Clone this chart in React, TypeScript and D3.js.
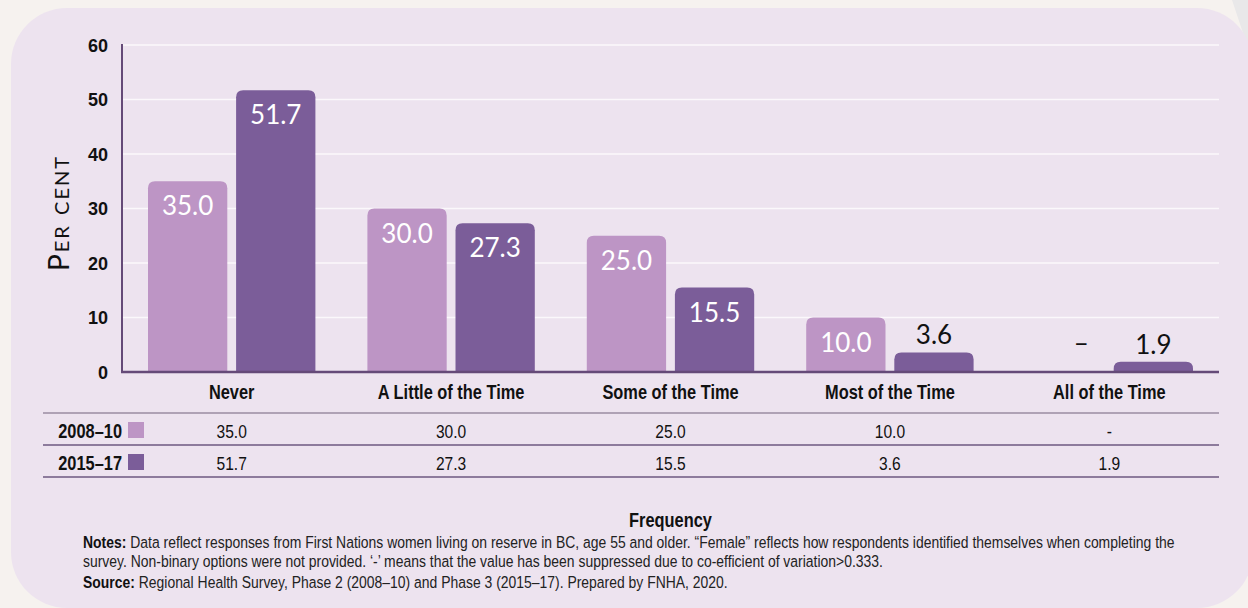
import * as d3 from "d3";
import type { ReactNode } from "react";

// ── Data ────────────────────────────────────────────────────────────────
const categories = [
  "Never",
  "A Little of the Time",
  "Some of the Time",
  "Most of the Time",
  "All of the Time",
];
const seriesNames = ["2008–10", "2015–17"];
const values2008: (number | null)[] = [35.0, 30.0, 25.0, 10.0, null];
const values2015: (number | null)[] = [51.7, 27.3, 15.5, 3.6, 1.9];
const yTicks = [0, 10, 20, 30, 40, 50, 60];

const notesLine1 =
  "Data reflect responses from First Nations women living on reserve in BC, age 55 and older. “Female” reflects how respondents identified themselves when completing the";
const notesLine2 =
  "survey. Non-binary options were not provided. ‘-’ means that the value has been suppressed due to co-efficient of variation>0.333.";
const sourceLine =
  "Regional Health Survey, Phase 2 (2008–10) and Phase 3 (2015–17). Prepared by FNHA, 2020.";

// ── Layout / styles ─────────────────────────────────────────────────────
const W = 1248;
const H = 608;
const PLOT = { left: 122, right: 1219, top: 45, bottom: 372 };
const COLORS = ["#bd95c5", "#7b5d99"];
const AXIS_COLOR = "#654a78";
const SANS = "'Liberation Sans', Arial, sans-serif";
const ROUND = "Lato, 'Noto Sans', sans-serif";
const SQUEEZE = 0.82; // fake a condensed face, none is installed

function topRounded(x: number, y: number, w: number, h: number, r: number) {
  const rr = Math.min(r, h, w / 2);
  return `M${x},${y + h}V${y + rr}Q${x},${y} ${x + rr},${y}H${x + w - rr}Q${x + w},${y} ${x + w},${y + rr}V${y + h}Z`;
}

// condensed text: horizontally squeezed Liberation Sans
function CText(props: {
  x: number;
  y: number;
  size: number;
  anchor?: "start" | "middle" | "end";
  bold?: boolean;
  fill?: string;
  dy?: string;
  squeeze?: number;
  children: ReactNode;
}) {
  const { x, y, size, anchor = "start", bold, fill = "#111", dy, squeeze = SQUEEZE, children } = props;
  return (
    <text
      transform={`translate(${x},${y}) scale(${squeeze},1)`}
      dy={dy}
      textAnchor={anchor}
      fontFamily={SANS}
      fontWeight={bold ? "bold" : "normal"}
      fontSize={size}
      fill={fill}
    >
      {children}
    </text>
  );
}

export default function App() {
  const x0 = d3.scaleBand<string>().domain(categories).range([PLOT.left, PLOT.right]);
  const x1 = d3
    .scaleBand<string>()
    .domain(seriesNames)
    .range([26, x0.bandwidth() - 26])
    .paddingInner(0.1);
  const y = d3.scaleLinear().domain([0, 60]).range([PLOT.bottom, PLOT.top]);

  const allSeries = [values2008, values2015];
  const fmt = (v: number | null) => (v === null ? "-" : v.toFixed(1));
  const catCenter = (c: string) => (x0(c) ?? 0) + x0.bandwidth() / 2;

  const tableTop = 413;
  const rowH = 32;

  return (
    <svg width={W} height={H} style={{ position: "absolute", left: 0, top: 0 }}>
      <rect width={W} height={H} fill="#f6f2ef" />
      <polygon points="1232,0 1248,0 1248,48" fill="#e9e8e9" />
      <rect x={11} y={8} width={1242} height={600} rx={56} fill="#ede3ef" />

      {/* gridlines */}
      {yTicks
        .filter((t) => t > 0)
        .map((t) => (
          <line key={t} x1={PLOT.left} x2={PLOT.right} y1={y(t)} y2={y(t)} stroke="#fbf8fb" strokeWidth={1.6} />
        ))}

      {/* y tick labels */}
      {yTicks.map((t) => (
        <CText key={t} x={108} y={y(t)} dy="0.36em" anchor="end" bold size={19} squeeze={0.95}>
          {t}
        </CText>
      ))}

      {/* y axis title */}
      <text
        transform={`translate(69,213) rotate(-90)`}
        textAnchor="middle"
        fontFamily={ROUND}
        fontSize={28}
        letterSpacing={2}
        fill="#111"
        style={{ fontVariant: "small-caps" }}
      >
        Per cent
      </text>

      {/* bars */}
      {categories.map((c, ci) =>
        seriesNames.map((s, si) => {
          const v = allSeries[si][ci];
          const bx = (x0(c) ?? 0) + (x1(s) ?? 0);
          const bw = x1.bandwidth();
          const cx = bx + bw / 2;
          if (v === null) {
            return (
              <text
                key={c + s}
                x={cx + 16}
                y={y(0) - 20}
                textAnchor="middle"
                fontFamily={ROUND}
                fontSize={26}
                fill="#111"
              >
                –
              </text>
            );
          }
          const top = y(v);
          const inside = v >= 10;
          return (
            <g key={c + s}>
              <path d={topRounded(bx, top, bw, y(0) - top, 7)} fill={COLORS[si]} />
              <text
                x={cx}
                y={inside ? top + 34 : top - 8}
                textAnchor="middle"
                fontFamily={ROUND}
                fontSize={26}
                fill={inside ? "#ffffff" : "#111"}
              >
                {v.toFixed(1)}
              </text>
            </g>
          );
        })
      )}

      {/* axes */}
      <line x1={PLOT.left} x2={PLOT.left} y1={PLOT.top - 1} y2={PLOT.bottom} stroke={AXIS_COLOR} strokeWidth={2} />
      <line x1={PLOT.left - 1} x2={PLOT.right} y1={PLOT.bottom} y2={PLOT.bottom} stroke={AXIS_COLOR} strokeWidth={2.5} />

      {/* category labels */}
      {categories.map((c) => (
        <CText key={c} x={catCenter(c)} y={399} anchor="middle" bold size={20}>
          {c}
        </CText>
      ))}

      {/* data table */}
      <line x1={43} x2={PLOT.right} y1={tableTop} y2={tableTop} stroke="#9a8ca2" strokeWidth={1.5} />
      {seriesNames.map((s, si) => {
        const rowTop = tableTop + si * rowH;
        const base = rowTop + 25;
        return (
          <g key={s}>
            <CText x={122} y={base} anchor="end" bold size={20}>
              {s}
            </CText>
            <rect x={128} y={rowTop + 9} width={16} height={16} fill={COLORS[si]} />
            {categories.map((c, ci) => (
              <CText key={c} x={catCenter(c)} y={base} anchor="middle" size={19}>
                {fmt(allSeries[si][ci])}
              </CText>
            ))}
            <line
              x1={43}
              x2={PLOT.right}
              y1={rowTop + rowH}
              y2={rowTop + rowH}
              stroke="#6c5880"
              strokeWidth={1.5}
            />
          </g>
        );
      })}

      {/* x axis title */}
      <CText x={(PLOT.left + PLOT.right) / 2} y={527} anchor="middle" bold size={20}>
        Frequency
      </CText>

      {/* notes */}
      <CText x={83} y={548} size={17} fill="#222">
        <tspan fontWeight="bold" fill="#111">Notes:</tspan> {notesLine1}
      </CText>
      <CText x={83} y={567} size={17} fill="#222">
        {notesLine2}
      </CText>
      <CText x={83} y={588} size={17} fill="#222">
        <tspan fontWeight="bold" fill="#111">Source:</tspan> {sourceLine}
      </CText>
    </svg>
  );
}
